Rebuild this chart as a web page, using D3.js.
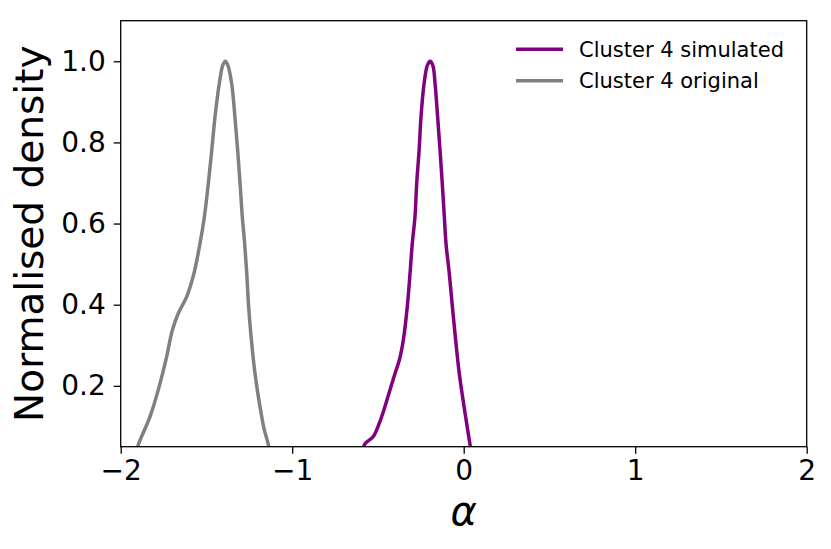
<!DOCTYPE html>
<html>
<head>
<meta charset="utf-8">
<script src="https://cdn.jsdelivr.net/npm/d3@7"></script>
<style>
  body { margin: 0; background: #fff; }
  svg { font-family: "DejaVu Sans", sans-serif; }
</style>
</head>
<body>
<svg id="chart" width="831" height="549"></svg>
<script>
// curves: [alpha, normalised density]
const simulated = [
  [-0.59, 0.04], [-0.576, 0.057], [-0.527, 0.075], [-0.492, 0.108], [-0.459, 0.149],
  [-0.43, 0.19], [-0.4, 0.231], [-0.375, 0.264], [-0.352, 0.313], [-0.329, 0.395],
  [-0.313, 0.477], [-0.3, 0.55], [-0.284, 0.617], [-0.274, 0.699], [-0.26, 0.781],
  [-0.249, 0.863], [-0.231, 0.945], [-0.212, 0.99], [-0.196, 1.0], [-0.18, 0.99],
  [-0.167, 0.945], [-0.152, 0.863], [-0.138, 0.781], [-0.125, 0.699], [-0.113, 0.617],
  [-0.103, 0.55], [-0.084, 0.477], [-0.066, 0.395], [-0.047, 0.313], [-0.026, 0.231],
  [0.002, 0.149], [0.023, 0.092], [0.037, 0.055], [0.045, 0.035]
];
const original = [
  [-1.91, 0.03], [-1.897, 0.055], [-1.829, 0.124], [-1.781, 0.19], [-1.732, 0.272],
  [-1.699, 0.337], [-1.664, 0.379], [-1.615, 0.42], [-1.573, 0.477], [-1.538, 0.55],
  [-1.512, 0.617], [-1.489, 0.699], [-1.469, 0.781], [-1.45, 0.863], [-1.425, 0.945],
  [-1.405, 0.99], [-1.39, 1.0], [-1.375, 0.99], [-1.353, 0.945], [-1.334, 0.863],
  [-1.318, 0.781], [-1.304, 0.699], [-1.291, 0.617], [-1.277, 0.55], [-1.265, 0.477],
  [-1.254, 0.395], [-1.238, 0.313], [-1.217, 0.231], [-1.188, 0.149], [-1.163, 0.092],
  [-1.139, 0.055], [-1.13, 0.03]
];
const seriesNames = ["Cluster 4 simulated", "Cluster 4 original"];
const seriesColors = ["#800080", "#808080"];
const xTicks = [-2, -1, 0, 1, 2];
const yTicks = [0.2, 0.4, 0.6, 0.8, 1.0];

const svg = d3.select("#chart");
const mLeft = 120.7, mRight = 806.7, mTop = 20.7, mBottom = 446.7;

const x = d3.scaleLinear().domain([-2, 2]).range([mLeft, mRight]);
const y = d3.scaleLinear().domain([0.05, 1.1]).range([mBottom, mTop]);

svg.append("clipPath").attr("id", "clip")
  .append("rect")
  .attr("x", mLeft).attr("y", mTop)
  .attr("width", mRight - mLeft).attr("height", mBottom - mTop);

const line = d3.line()
  .x(d => x(d[0]))
  .y(d => y(d[1]))
  .curve(d3.curveCatmullRom.alpha(0.5));

const plot = svg.append("g").attr("clip-path", "url(#clip)");
[simulated, original].forEach((s, i) => {
  plot.append("path")
    .attr("d", line(s))
    .attr("fill", "none")
    .attr("stroke", seriesColors[i])
    .attr("stroke-width", 3.5)
    .attr("stroke-linejoin", "round");
});

// axes
const xAxis = svg.append("g")
  .attr("transform", `translate(0,${mBottom})`)
  .call(d3.axisBottom(x).tickValues(xTicks).tickSize(7).tickPadding(6).tickFormat(d3.format("d")));
const yAxis = svg.append("g")
  .attr("transform", `translate(${mLeft},0)`)
  .call(d3.axisLeft(y).tickValues(yTicks).tickSize(7).tickPadding(8).tickFormat(d3.format(".1f")));

[xAxis, yAxis].forEach(a => {
  a.select(".domain").remove();
  a.selectAll(".tick line").attr("stroke", "#000").attr("stroke-width", 1.3);
  a.selectAll(".tick text")
    .attr("fill", "#000")
    .style("font-size", "28px")
    .style("font-family", "DejaVu Sans, sans-serif");
});

// frame
svg.append("rect")
  .attr("x", mLeft).attr("y", mTop)
  .attr("width", mRight - mLeft).attr("height", mBottom - mTop)
  .attr("fill", "none")
  .attr("stroke", "#000")
  .attr("stroke-width", 1.3);

// axis labels
svg.append("text")
  .attr("transform", `translate(43,${(mTop + mBottom) / 2}) rotate(-90)`)
  .attr("text-anchor", "middle")
  .style("font-size", "39px")
  .text("Normalised density");

svg.append("text")
  .attr("x", (mLeft + mRight) / 2)
  .attr("y", 525)
  .attr("text-anchor", "middle")
  .style("font-size", "40px")
  .style("font-style", "italic")
  .text("α");

// legend
const legend = svg.append("g");
seriesNames.forEach((name, i) => {
  const ly = 49.3 + i * 31.4;
  legend.append("line")
    .attr("x1", 516).attr("x2", 563)
    .attr("y1", ly).attr("y2", ly)
    .attr("stroke", seriesColors[i])
    .attr("stroke-width", 3.5);
  legend.append("text")
    .attr("x", 579).attr("y", ly)
    .attr("dy", "0.36em")
    .style("font-size", "21px")
    .text(name);
});
</script>
</body>
</html>
